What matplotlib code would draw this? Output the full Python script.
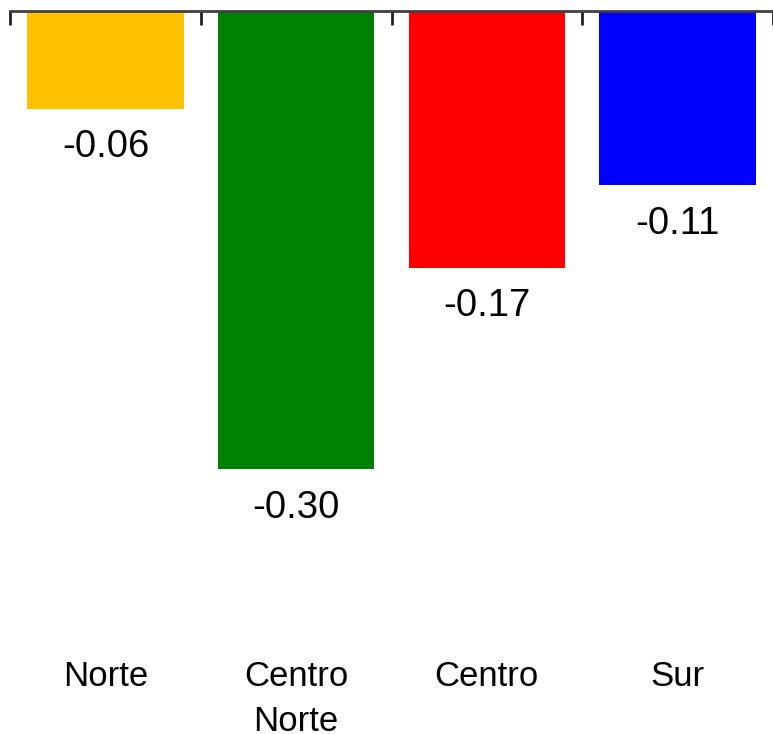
import matplotlib.pyplot as plt
import numpy as np

plt.rcParams['font.family'] = ['Liberation Sans', 'DejaVu Sans']

regions = ['Norte', 'Centro\nNorte', 'Centro', 'Sur']
values = [-0.064, -0.30, -0.168, -0.114]
colors = ['#FFC000', '#008000', '#FF0000', '#0000FF']

fig = plt.figure(figsize=(7.73, 7.34), dpi=100)
ax = fig.add_axes([10/773, 0.132, 1 - 10/773, 0.985 - 0.132])

x = np.arange(len(regions))
ax.bar(x, values, width=0.82, color=colors, zorder=1)

for xi, v in zip(x, values):
    ax.annotate('%.2f' % v, (xi, v), xytext=(0, -35), textcoords='offset points',
                ha='center', va='baseline', fontsize=27.5)

for xi, name in zip(x, regions):
    ax.text(xi, -0.425, name, ha='center', va='top', fontsize=25,
            linespacing=1.45, clip_on=False)

ax.set_xlim(-0.5, 3.46)
ax.set_ylim(-0.41, 0)

for s in ['left', 'right', 'bottom']:
    ax.spines[s].set_visible(False)
ax.spines['top'].set_color('#404040')
ax.spines['top'].set_linewidth(2)

ax.set_xticks([-0.5, 0.5, 1.5, 2.5, 3.5])
ax.set_xticklabels([])
ax.set_yticks([])
ax.tick_params(axis='x', bottom=False, top=True, direction='in',
               length=10, width=2, color='#202020')

fig.savefig('out.png', dpi=100)
